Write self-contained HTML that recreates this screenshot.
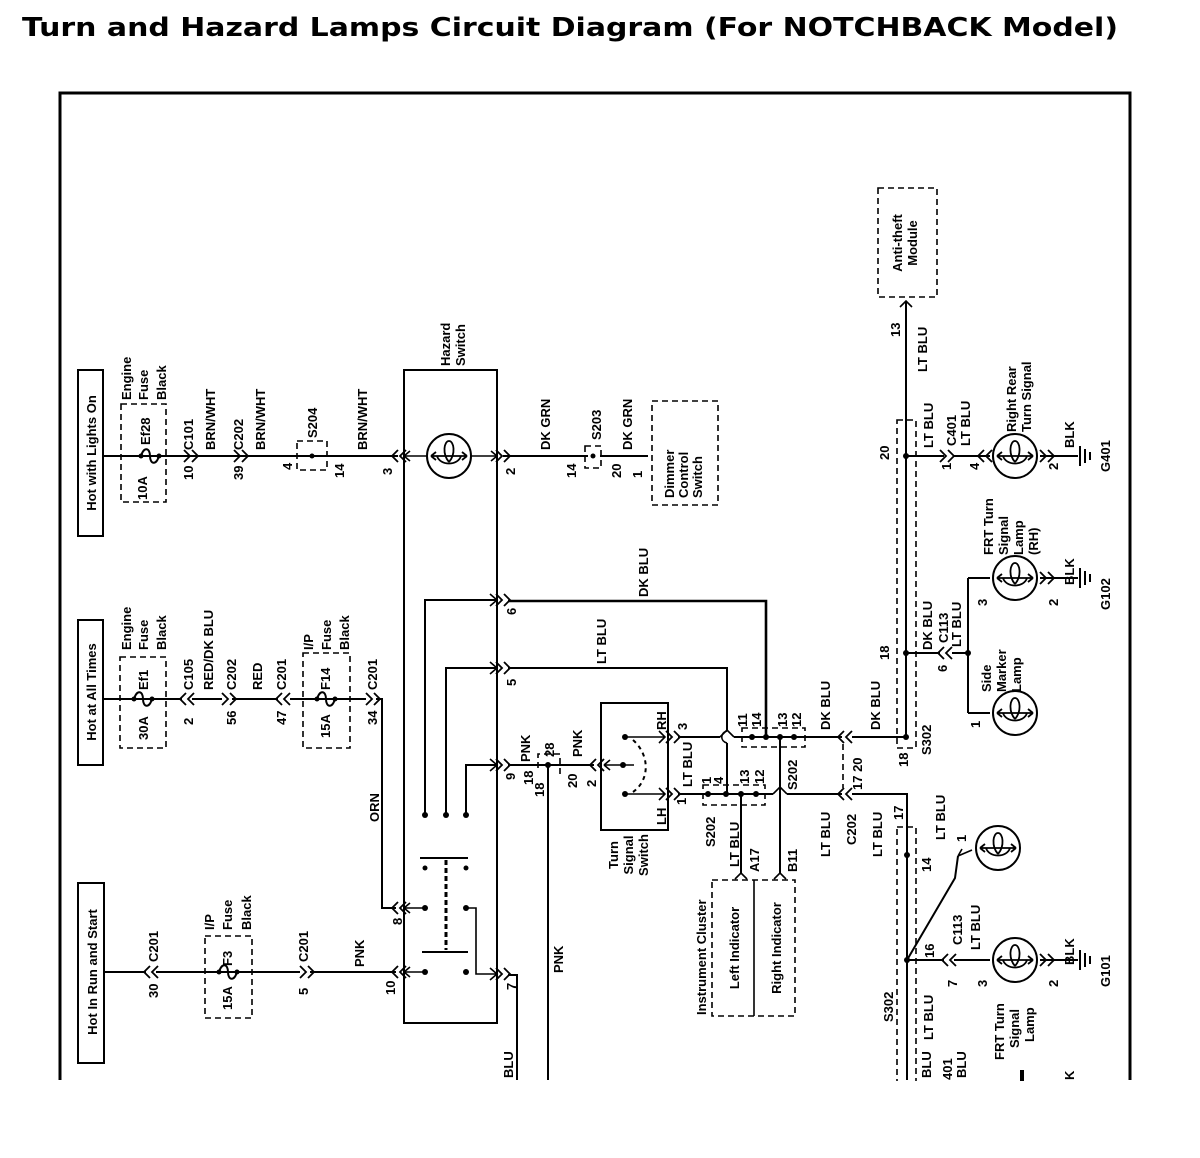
<!DOCTYPE html>
<html><head><meta charset="utf-8"><style>
html,body{margin:0;padding:0;background:#fff;}
svg{display:block;}
text{font-family:"Liberation Sans",sans-serif;font-weight:bold;font-size:13px;fill:#000;}
.t{font-family:"DejaVu Sans","Liberation Sans",sans-serif;font-size:26px;font-weight:bold;}
.w{stroke:#000;stroke-width:2;fill:none;}
.d{stroke:#000;stroke-width:1.6;fill:none;stroke-dasharray:6,4;}
.c{stroke:#000;stroke-width:1.6;fill:none;}
</style></head><body>
<svg width="1200" height="1158" viewBox="0 0 1200 1158" xmlns="http://www.w3.org/2000/svg">
<defs>
<g id="lamp"><circle cx="0" cy="0" r="22" fill="#fff" stroke="#000" stroke-width="2"/><path d="M-18,0 L18,0 M-18,0 l5,-4 M-18,0 l5,4 M18,0 l-5,-4 M18,0 l-5,4 M-12,0 C-9,10 9,10 12,0 M0,6 C-7,-2 -5,-15 0,-15 C5,-15 7,-2 0,6" stroke="#000" stroke-width="1.8" fill="none"/></g>
<g id="cr"><path d="M-6,-6 L0,0 L-6,6 M2,-6 L8,0 L2,6" stroke="#000" stroke-width="1.8" fill="none"/></g>
<g id="cl"><path d="M6,-6 L0,0 L6,6 M-2,-6 L-8,0 L-2,6" stroke="#000" stroke-width="1.8" fill="none"/></g>
<g id="fuse"><circle cx="-9" cy="0" r="2.5"/><circle cx="9" cy="0" r="2.5"/><path d="M-9,0 C-6,-10 0,-8 0,0 C0,8 6,10 9,0" stroke="#000" stroke-width="2" fill="none"/></g>
<g id="gnd"><path d="M0,-10 L0,10 M5,-7 L5,7 M10,-4 L10,4" stroke="#000" stroke-width="2"/></g>
</defs>

<text class="t" x="22" y="36" textLength="1096" lengthAdjust="spacingAndGlyphs">Turn and Hazard Lamps Circuit Diagram (For NOTCHBACK Model)</text>

<path d="M60,1080 L60,93 L1130,93 L1130,1080" stroke="#000" stroke-width="3" fill="none"/>

<rect x="78" y="370" width="25" height="166" fill="none" stroke="#000" stroke-width="2"/>
<rect x="78" y="620" width="25" height="145" fill="none" stroke="#000" stroke-width="2"/>
<rect x="78" y="883" width="26" height="180" fill="none" stroke="#000" stroke-width="2"/>
<text transform="translate(96,453) rotate(-90)" text-anchor="middle">Hot with Lights On</text>
<text transform="translate(96,692) rotate(-90)" text-anchor="middle">Hot at All Times</text>
<text transform="translate(97,972) rotate(-90)" text-anchor="middle">Hot In Run and Start</text>

<!-- Row 1 -->
<path class="w" d="M103,456 L398,456 M503,456 L588,456 M600,456 L648,456"/>
<rect class="d" x="121" y="404" width="45" height="98"/>
<use href="#fuse" x="150" y="456"/>
<use href="#cr" x="190" y="456"/>
<use href="#cr" x="240" y="456"/>
<rect class="d" x="297" y="441" width="30" height="29"/>
<circle cx="312" cy="456" r="2.5"/>
<use href="#cl" x="400" y="456"/>
<use href="#cr" x="502" y="456"/>
<rect class="d" x="585" y="446" width="16" height="22"/>
<circle cx="593" cy="456" r="2.5"/>
<rect class="d" x="652" y="401" width="66" height="104"/>
<text transform="translate(131,400) rotate(-90)">Engine</text>
<text transform="translate(148,400) rotate(-90)">Fuse</text>
<text transform="translate(166,400) rotate(-90)">Black</text>
<text transform="translate(147,500) rotate(-90)">10A</text>
<text transform="translate(150,445) rotate(-90)">Ef28</text>
<text transform="translate(193,480) rotate(-90)">10</text>
<text transform="translate(193,450) rotate(-90)">C101</text>
<text transform="translate(215,450) rotate(-90)">BRN/WHT</text>
<text transform="translate(243,480) rotate(-90)">39</text>
<text transform="translate(243,450) rotate(-90)">C202</text>
<text transform="translate(265,450) rotate(-90)">BRN/WHT</text>
<text transform="translate(292,470) rotate(-90)">4</text>
<text transform="translate(317,438) rotate(-90)">S204</text>
<text transform="translate(344,478) rotate(-90)">14</text>
<text transform="translate(367,450) rotate(-90)">BRN/WHT</text>
<text transform="translate(392,475) rotate(-90)">3</text>

<!-- Hazard switch -->
<rect x="404" y="370" width="93" height="653" fill="none" stroke="#000" stroke-width="2"/>
<text transform="translate(450,366) rotate(-90)">Hazard</text>
<text transform="translate(465,366) rotate(-90)">Switch</text>
<use href="#lamp" x="449" y="456"/>
<path class="c" d="M404,456 L427,456 M471,456 L497,456 M404,456 l6,-5 M404,456 l6,5 M497,456 l-6,-5 M497,456 l-6,5"/>
<text transform="translate(515,475) rotate(-90)">2</text>
<text transform="translate(550,450) rotate(-90)">DK GRN</text>
<text transform="translate(576,478) rotate(-90)">14</text>
<text transform="translate(601,440) rotate(-90)">S203</text>
<text transform="translate(621,478) rotate(-90)">20</text>
<text transform="translate(632,450) rotate(-90)">DK GRN</text>
<text transform="translate(642,478) rotate(-90)">1</text>
<text transform="translate(674,498) rotate(-90)">Dimmer</text>
<text transform="translate(688,498) rotate(-90)">Control</text>
<text transform="translate(702,498) rotate(-90)">Switch</text>

<path class="w" d="M425,815 L425,600 L497,600 M446,815 L446,668 L497,668 M466,815 L466,765 L497,765"/>
<path class="c" d="M490,594 L497,600 L490,606 M490,662 L497,668 L490,674 M490,759 L497,765 L490,771"/>
<use href="#cr" x="502" y="600"/><use href="#cr" x="502" y="668"/><use href="#cr" x="502" y="765"/>
<circle cx="425" cy="815" r="3"/><circle cx="446" cy="815" r="3"/><circle cx="466" cy="815" r="3"/>
<path class="w" d="M420,858 L468,858 M422,952 L468,952"/>
<path d="M446,860 L446,950" stroke="#000" stroke-width="3" stroke-dasharray="5,3"/>
<circle cx="425" cy="868" r="2.5"/><circle cx="466" cy="868" r="2.5"/>
<circle cx="425" cy="908" r="3"/><circle cx="466" cy="908" r="3"/>
<circle cx="425" cy="972" r="3"/><circle cx="466" cy="972" r="3"/>
<path class="c" d="M404,908 L425,908 M404,908 l6,-5 M404,908 l6,5 M404,972 L425,972 M404,972 l6,-5 M404,972 l6,5 M466,908 L476,908 L476,974 L497,974 M490,968 L497,974 L490,980"/>
<use href="#cl" x="400" y="908"/><use href="#cl" x="400" y="972"/>
<use href="#cr" x="502" y="974"/>
<path class="w" d="M508,975 L517,975 L517,1080"/>
<text transform="translate(402,925) rotate(-90)">8</text>
<text transform="translate(395,995) rotate(-90)">10</text>
<text transform="translate(516,990) rotate(-90)">7</text>
<text transform="translate(513,1078) rotate(-90)">BLU</text>
<text transform="translate(516,615) rotate(-90)">6</text>
<text transform="translate(516,686) rotate(-90)">5</text>
<text transform="translate(515,780) rotate(-90)">9</text>

<!-- Row 2 -->
<path class="w" d="M103,699 L182,699 M192,699 L222,699 M232,699 L278,699 M290,699 L366,699 M376,699 L382,699 L382,908 L396,908"/>
<rect class="d" x="120" y="657" width="46" height="91"/>
<use href="#fuse" x="143" y="699"/>
<use href="#cl" x="188" y="699"/>
<use href="#cr" x="228" y="699"/>
<use href="#cl" x="284" y="699"/>
<rect class="d" x="303" y="653" width="47" height="95"/>
<use href="#fuse" x="326" y="699"/>
<use href="#cr" x="372" y="699"/>
<text transform="translate(131,650) rotate(-90)">Engine</text>
<text transform="translate(148,650) rotate(-90)">Fuse</text>
<text transform="translate(166,650) rotate(-90)">Black</text>
<text transform="translate(148,740) rotate(-90)">30A</text>
<text transform="translate(148,690) rotate(-90)">Ef1</text>
<text transform="translate(193,725) rotate(-90)">2</text>
<text transform="translate(193,690) rotate(-90)">C105</text>
<text transform="translate(213,690) rotate(-90)">RED/DK BLU</text>
<text transform="translate(236,725) rotate(-90)">56</text>
<text transform="translate(236,690) rotate(-90)">C202</text>
<text transform="translate(262,690) rotate(-90)">RED</text>
<text transform="translate(286,725) rotate(-90)">47</text>
<text transform="translate(286,690) rotate(-90)">C201</text>
<text transform="translate(313,650) rotate(-90)">I/P</text>
<text transform="translate(331,650) rotate(-90)">Fuse</text>
<text transform="translate(349,650) rotate(-90)">Black</text>
<text transform="translate(330,738) rotate(-90)">15A</text>
<text transform="translate(330,690) rotate(-90)">F14</text>
<text transform="translate(377,725) rotate(-90)">34</text>
<text transform="translate(377,690) rotate(-90)">C201</text>
<text transform="translate(379,822) rotate(-90)">ORN</text>

<!-- Row 3 -->
<path class="w" d="M104,972 L146,972 M156,972 L300,972 M310,972 L396,972"/>
<use href="#cl" x="152" y="972"/>
<rect class="d" x="205" y="936" width="47" height="82"/>
<use href="#fuse" x="228" y="972"/>
<use href="#cr" x="306" y="972"/>
<text transform="translate(158,998) rotate(-90)">30</text>
<text transform="translate(158,962) rotate(-90)">C201</text>
<text transform="translate(214,930) rotate(-90)">I/P</text>
<text transform="translate(232,930) rotate(-90)">Fuse</text>
<text transform="translate(251,930) rotate(-90)">Black</text>
<text transform="translate(232,1010) rotate(-90)">15A</text>
<text transform="translate(232,966) rotate(-90)">F3</text>
<text transform="translate(308,995) rotate(-90)">5</text>
<text transform="translate(308,962) rotate(-90)">C201</text>
<text transform="translate(364,967) rotate(-90)">PNK</text>

<path d="M508,601 L766,601 L766,737" stroke="#000" stroke-width="2.6" fill="none"/>
<path class="w" d="M508,668 L727,668 L727,731 M727,743 L727,794"/>
<path class="c" d="M727,731 C720,733 720,741 727,743"/>
<path class="w" d="M508,765 L594,765 M548,765 L548,1080"/>
<circle cx="548" cy="765" r="3"/>
<path class="d" d="M538,768 L538,754 L560,754 L560,778"/>
<use href="#cl" x="598" y="765"/>
<text transform="translate(606,664) rotate(-90)">LT BLU</text>
<text transform="translate(648,597) rotate(-90)">DK BLU</text>
<text transform="translate(530,762) rotate(-90)">PNK</text>
<text transform="translate(533,785) rotate(-90)">18</text>
<text transform="translate(544,797) rotate(-90)">18</text>
<text transform="translate(554,757) rotate(-90)">28</text>
<text transform="translate(577,788) rotate(-90)">20</text>
<text transform="translate(582,757) rotate(-90)">PNK</text>
<text transform="translate(596,787) rotate(-90)">2</text>
<text transform="translate(563,973) rotate(-90)">PNK</text>

<rect x="601" y="703" width="67" height="127" fill="none" stroke="#000" stroke-width="2"/>
<path class="c" d="M604,765 L634,765 M604,765 l6,-5 M604,765 l6,5 M625,737 L665,737 M625,794 L665,794 M659,731 L665,737 L659,743 M659,788 L665,794 L659,800"/>
<circle cx="625" cy="737" r="3"/><circle cx="625" cy="794" r="3"/><circle cx="623" cy="765" r="3"/>
<path d="M633,740 C650,755 650,780 633,792" stroke="#000" stroke-width="2" fill="none" stroke-dasharray="4,4"/>
<text transform="translate(666,730) rotate(-90)">RH</text>
<text transform="translate(666,825) rotate(-90)">LH</text>
<text transform="translate(618,855) rotate(-90)" text-anchor="middle">Turn</text>
<text transform="translate(633,855) rotate(-90)" text-anchor="middle">Signal</text>
<text transform="translate(648,855) rotate(-90)" text-anchor="middle">Switch</text>
<use href="#cr" x="672" y="737"/><use href="#cr" x="672" y="794"/>
<path class="w" d="M678,737 L720,737 M734,737 L842,737 M678,794 L773,794 M787,794 L842,794"/>
<path class="c" d="M720,737 L727,730 L734,737 M773,794 L780,787 L787,794"/>
<path class="w" d="M741,794 L741,873 M780,737 L780,873"/>
<path class="c" d="M735,879 L741,873 L747,879 M774,879 L780,873 L786,879"/>
<rect class="d" x="742" y="728" width="63" height="19"/>
<rect class="d" x="703" y="785" width="62" height="20"/>
<circle cx="752" cy="737" r="3"/><circle cx="766" cy="737" r="3"/><circle cx="780" cy="737" r="3"/><circle cx="794" cy="737" r="3"/>
<circle cx="708" cy="794" r="3"/><circle cx="726" cy="794" r="3"/><circle cx="741" cy="794" r="3"/><circle cx="756" cy="794" r="3"/>
<text transform="translate(687,730) rotate(-90)">3</text>
<text transform="translate(686,805) rotate(-90)">1</text>
<text transform="translate(692,787) rotate(-90)">LT BLU</text>
<text transform="translate(747,727) rotate(-90)">11</text>
<text transform="translate(761,727) rotate(-90)">14</text>
<text transform="translate(787,727) rotate(-90)">13</text>
<text transform="translate(801,727) rotate(-90)">12</text>
<text transform="translate(711,784) rotate(-90)">1</text>
<text transform="translate(723,784) rotate(-90)">4</text>
<text transform="translate(749,784) rotate(-90)">13</text>
<text transform="translate(764,784) rotate(-90)">12</text>
<text transform="translate(797,790) rotate(-90)">S202</text>
<text transform="translate(715,847) rotate(-90)">S202</text>
<text transform="translate(739,867) rotate(-90)">LT BLU</text>
<text transform="translate(759,872) rotate(-90)">A17</text>
<text transform="translate(797,872) rotate(-90)">B11</text>

<rect class="d" x="712" y="880" width="83" height="136"/>
<path class="c" d="M754,880 L754,1016"/>
<text transform="translate(706,1015) rotate(-90)">Instrument Cluster</text>
<text transform="translate(739,948) rotate(-90)" text-anchor="middle">Left Indicator</text>
<text transform="translate(781,948) rotate(-90)" text-anchor="middle">Right Indicator</text>

<use href="#cl" x="846" y="737"/><use href="#cl" x="846" y="794"/>
<path class="d" d="M843,744 L843,788"/>
<path class="w" d="M852,737 L906,737 M852,794 L907,794 L907,1080"/>
<text transform="translate(830,730) rotate(-90)">DK BLU</text>
<text transform="translate(880,730) rotate(-90)">DK BLU</text>
<text transform="translate(862,790) rotate(-90)">17 20</text>
<text transform="translate(856,845) rotate(-90)">C202</text>
<text transform="translate(830,857) rotate(-90)">LT BLU</text>
<text transform="translate(882,857) rotate(-90)">LT BLU</text>
<text transform="translate(903,820) rotate(-90)">17</text>

<rect class="d" x="878" y="188" width="59" height="109"/>
<text transform="translate(902,243) rotate(-90)" text-anchor="middle">Anti-theft</text>
<text transform="translate(917,243) rotate(-90)" text-anchor="middle">Module</text>
<path class="c" d="M900,307 L906,301 L912,307"/>
<path class="w" d="M906,301 L906,737"/>
<rect class="d" x="897" y="420" width="19" height="328"/>
<circle cx="906" cy="456" r="3"/><circle cx="906" cy="653" r="3"/><circle cx="906" cy="737" r="3"/>
<text transform="translate(900,337) rotate(-90)">13</text>
<text transform="translate(927,372) rotate(-90)">LT BLU</text>
<text transform="translate(889,460) rotate(-90)">20</text>
<text transform="translate(889,660) rotate(-90)">18</text>
<text transform="translate(908,767) rotate(-90)">18</text>
<text transform="translate(931,755) rotate(-90)">S302</text>

<path class="w" d="M906,456 L944,456 M954,456 L990,456 M1040,456 L1078,456"/>
<use href="#cr" x="946" y="456"/><use href="#cl" x="986" y="456"/>
<use href="#lamp" x="1015" y="456"/>
<use href="#cr" x="1046" y="456"/>
<use href="#gnd" x="1080" y="456"/>
<text transform="translate(933,448) rotate(-90)">LT BLU</text>
<text transform="translate(951,470) rotate(-90)">1</text>
<text transform="translate(956,446) rotate(-90)">C401</text>
<text transform="translate(970,446) rotate(-90)">LT BLU</text>
<text transform="translate(979,470) rotate(-90)">4</text>
<text transform="translate(1016,432) rotate(-90)">Right Rear</text>
<text transform="translate(1031,432) rotate(-90)">Turn Signal</text>
<text transform="translate(1058,470) rotate(-90)">2</text>
<text transform="translate(1074,448) rotate(-90)">BLK</text>
<text transform="translate(1110,472) rotate(-90)">G401</text>

<path class="w" d="M906,653 L940,653 M952,653 L968,653 M968,578 L968,713 M968,578 L990,578 M968,713 L990,713 M1040,578 L1078,578"/>
<use href="#cl" x="946" y="653"/>
<circle cx="968" cy="653" r="3"/>
<use href="#lamp" x="1015" y="578"/>
<use href="#lamp" x="1015" y="713"/>
<use href="#cr" x="1046" y="578"/>
<use href="#gnd" x="1080" y="578"/>
<text transform="translate(932,650) rotate(-90)">DK BLU</text>
<text transform="translate(947,672) rotate(-90)">6</text>
<text transform="translate(948,643) rotate(-90)">C113</text>
<text transform="translate(961,647) rotate(-90)">LT BLU</text>
<text transform="translate(993,555) rotate(-90)">FRT Turn</text>
<text transform="translate(1008,555) rotate(-90)">Signal</text>
<text transform="translate(1023,555) rotate(-90)">Lamp</text>
<text transform="translate(1038,555) rotate(-90)">(RH)</text>
<text transform="translate(987,606) rotate(-90)">3</text>
<text transform="translate(1058,606) rotate(-90)">2</text>
<text transform="translate(1074,585) rotate(-90)">BLK</text>
<text transform="translate(1110,610) rotate(-90)">G102</text>
<text transform="translate(991,692) rotate(-90)">Side</text>
<text transform="translate(1006,692) rotate(-90)">Marker</text>
<text transform="translate(1021,692) rotate(-90)">Lamp</text>
<text transform="translate(980,728) rotate(-90)">1</text>

<rect class="d" x="897" y="827" width="19" height="260"/>
<circle cx="907" cy="855" r="3"/><circle cx="907" cy="960" r="3"/>
<path class="w" d="M907,960 L955,878 L958,856 M907,960 L944,960 M954,960 L990,960 M1040,960 L1078,960"/>
<path class="c" d="M958,856 L972,850 M958,856 l4,-7"/>
<use href="#lamp" x="998" y="848"/>
<use href="#cl" x="950" y="960"/>
<use href="#lamp" x="1015" y="960"/>
<use href="#cr" x="1046" y="960"/>
<use href="#gnd" x="1080" y="960"/>
<text transform="translate(931,872) rotate(-90)">14</text>
<text transform="translate(945,840) rotate(-90)">LT BLU</text>
<text transform="translate(966,842) rotate(-90)">1</text>
<text transform="translate(893,1022) rotate(-90)">S302</text>
<text transform="translate(934,958) rotate(-90)">16</text>
<text transform="translate(962,945) rotate(-90)">C113</text>
<text transform="translate(980,950) rotate(-90)">LT BLU</text>
<text transform="translate(957,987) rotate(-90)">7</text>
<text transform="translate(987,987) rotate(-90)">3</text>
<text transform="translate(933,1040) rotate(-90)">LT BLU</text>
<text transform="translate(1058,987) rotate(-90)">2</text>
<text transform="translate(1074,965) rotate(-90)">BLK</text>
<text transform="translate(1110,987) rotate(-90)">G101</text>
<text transform="translate(1004,1060) rotate(-90)">FRT Turn</text>
<text transform="translate(1019,1048) rotate(-90)">Signal</text>
<text transform="translate(1034,1042) rotate(-90)">Lamp</text>
<text transform="translate(931,1078) rotate(-90)">BLU</text>
<text transform="translate(952,1080) rotate(-90)">401</text>
<text transform="translate(966,1078) rotate(-90)">BLU</text>
<path d="M1022,1070 L1022,1086" stroke="#000" stroke-width="4"/>
<text transform="translate(1074,1080) rotate(-90)">K</text>

<rect x="0" y="1081" width="1200" height="77" fill="#fff"/>
</svg>
</body></html>
